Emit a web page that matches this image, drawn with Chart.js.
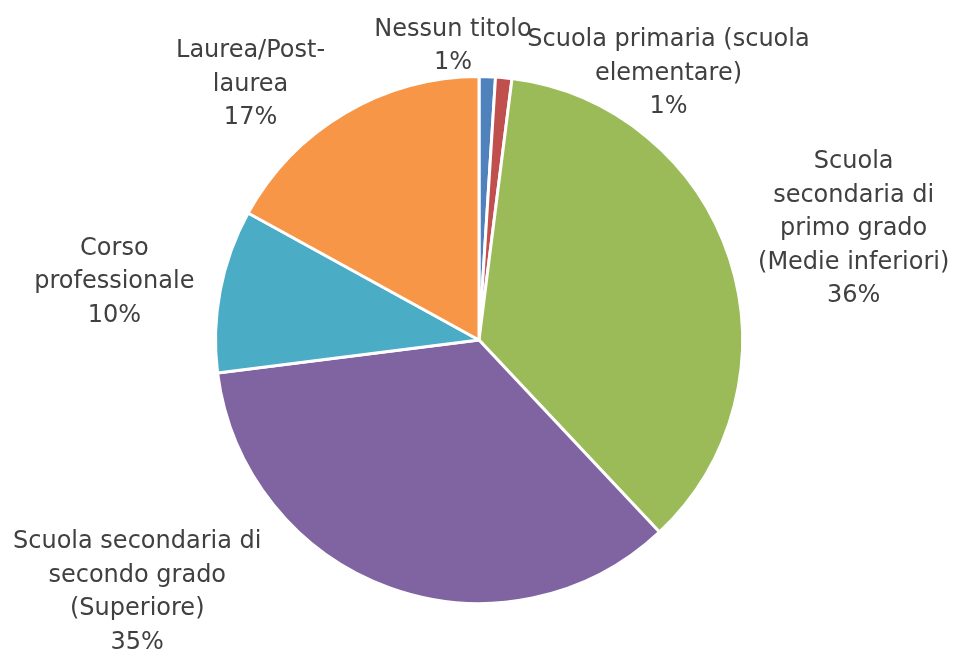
<!DOCTYPE html>
<html>
<head>
<meta charset="utf-8">
<script src="https://cdn.jsdelivr.net/npm/chart.js@4/dist/chart.umd.min.js"></script>
<style>
  html, body { margin: 0; padding: 0; background: #ffffff; }
  #wrap { width: 954px; height: 649px; }
</style>
</head>
<body>
<div id="wrap"><canvas id="pie-canva" width="954" height="649"></canvas></div>
<script>
const categories = [
  ['Nessun titolo'],
  ['Scuola primaria (scuola', 'elementare)'],
  ['Scuola', 'secondaria di', 'primo grado', '(Medie inferiori)'],
  ['Scuola secondaria di', 'secondo grado', '(Superiore)'],
  ['Corso', 'professionale'],
  ['Laurea/Post-', 'laurea']
];
const percentages = [1, 1, 36, 35, 10, 17];
const sliceColors = ['#4F81BD', '#C0504D', '#9BBB59', '#8064A2', '#4BACC6', '#F79646'];

// where each label block sits, in radius units from the pie centre
const labelPlace = [
  [-0.099, -1.115],
  [0.719, -1.011],
  [1.422, -0.422],
  [-1.297, 0.957],
  [-1.384, -0.220],
  [-0.867, -0.969]
];

const labelFont = '24px "DejaVu Sans", sans-serif';
const lineGap = 33.5;

const outsideLabels = {
  id: 'outsideLabels',
  afterDatasetsDraw(chart) {
    const ctx = chart.ctx;
    const meta = chart.getDatasetMeta(0);
    ctx.save();
    ctx.font = labelFont;
    ctx.fillStyle = '#404040';
    ctx.textAlign = 'center';
    ctx.textBaseline = 'middle';
    meta.data.forEach((arc, i) => {
      const r = arc.outerRadius;
      const cx = arc.x + labelPlace[i][0] * r;
      const cy = arc.y + labelPlace[i][1] * r;
      const lines = categories[i].concat([percentages[i] + '%']);
      const top = cy - (lines.length - 1) * lineGap / 2;
      lines.forEach((t, k) => ctx.fillText(t, cx, top + k * lineGap));
    });
    ctx.restore();
  }
};

const canva = document.getElementById('pie-canva');

const config = {
  type: 'pie',
  data: {
    labels: categories.map(c => c.join(' ')),
    datasets: [{
      data: percentages,
      backgroundColor: sliceColors,
      borderColor: '#ffffff',
      borderWidth: 3
    }]
  },
  options: {
    responsive: false,
    animation: false,
    layout: {
      padding: { left: 214, right: 210, top: 75, bottom: 44 }
    },
    plugins: {
      legend: { display: false },
      tooltip: { enabled: false }
    }
  },
  plugins: [outsideLabels]
};

let chart = new Chart(canva, config);
</script>
</body>
</html>
